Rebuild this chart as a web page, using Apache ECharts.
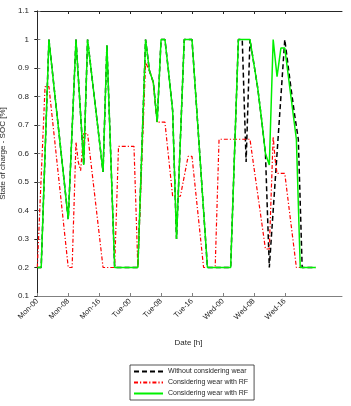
<!DOCTYPE html>
<html>
<head>
<meta charset="utf-8">
<script src="https://cdn.jsdelivr.net/npm/echarts@6/dist/echarts.min.js"></script>
<style>
html,body{margin:0;padding:0;background:#fff;}
#chart{width:351px;height:406px;}
</style>
</head>
<body>
<div id="chart"></div>
<script>
// Hours (from Mon 00:00) and SOC values
var tickHours = [0, 8, 16, 24, 32, 40, 48, 56, 64];
var tickLabels = ['Mon-00','Mon-08','Mon-16','Tue-00','Tue-08','Tue-16','Wed-00','Wed-08','Wed-16'];

var noWearHours = [0,1,3,8,10,12,13,17,18,20,26,28,29,30,31,32,33,34,35,36,38,40,44,50,52,53,54,55,57,58,59,60,64,65.5,66.5,67.5,68.5,72];
var noWearSoc   = [0.2,0.2,1,0.37,1,0.56,1,0.535,0.98,0.2,0.2,1,0.89,0.85,0.71,1,1,0.88,0.75,0.3,1,1,0.2,0.2,1,1,0.57,1,0.83,0.72,0.6,0.2,1,0.84,0.74,0.65,0.2,0.2];

var rfHours = [0,2,3,8,9,10,10.6,11.2,12,13,17,20,21,25,26,28,29,30,31,33,35,37,39,40,43,46,47,55,59,60,61,61.5,62,64,67,68];
var rfSoc   = [0.2,0.835,0.835,0.2,0.2,0.64,0.57,0.54,0.67,0.67,0.2,0.2,0.625,0.625,0.2,0.92,0.89,0.85,0.71,0.71,0.45,0.45,0.59,0.59,0.2,0.2,0.65,0.65,0.265,0.265,0.66,0.58,0.53,0.53,0.2,0.2];

var rf2Hours = [0,1,3,8,10,12,13,17,18,20,26,28,29,30,31,32,33,34,35,36,38,40,44,50,52,55,57,58,59,60,61,62,63,64,67,68,72];
var rf2Soc   = [0.2,0.2,1,0.37,1,0.56,1,0.535,0.98,0.2,0.2,1,0.89,0.85,0.71,1,1,0.88,0.75,0.3,1,1,0.2,0.2,1,1,0.83,0.72,0.6,0.56,1,0.87,0.97,0.97,0.65,0.2,0.2];

var seriesNames = ['Without considering wear','Considering wear with RF','Considering wear with RF '];

function pairs(h, v){ return h.map(function(x,i){ return [x, v[i]]; }); }

var font = 'Liberation Sans, Arial, Helvetica, sans-serif';
var txt = '#262626';

var chart = echarts.init(document.getElementById('chart'), null, {renderer:'canvas'});
var option = {
  animation: false,
  backgroundColor: '#fff',
  grid: {left: 35, right: 9, top: 11, height: 285, containLabel: false, outerBoundsMode: 'none'},
  xAxis: [{
    type: 'value', min: -0.6, max: 78.8,
    name: 'Date [h]', nameLocation: 'middle', nameGap: 43,
    nameTextStyle: {fontFamily: font, fontSize: 8, color: txt},
    axisLine: {show: true, lineStyle: {color: '#808080', width: 1}},
    axisTick: {show: true, inside: true, length: 3, customValues: tickHours, lineStyle: {color: '#808080'}},
    axisLabel: {show: true, rotate: 45, margin: 4, fontFamily: font, fontSize: 7.5, color: txt,
      customValues: tickHours,
      formatter: function(v){ var i = tickHours.indexOf(Math.round(v)); return i >= 0 ? tickLabels[i] : ''; }},
    splitLine: {show: false}
  },{
    type: 'value', min: -0.6, max: 78.8, position: 'top',
    axisLine: {show: true, lineStyle: {color: '#262626', width: 1}},
    axisTick: {show: true, inside: true, length: 3, customValues: tickHours, lineStyle: {color: '#262626'}},
    axisLabel: {show: false},
    splitLine: {show: false}
  }],
  yAxis: [{
    type: 'value', min: 0.1, max: 1.1, interval: 0.1,
    name: 'State of charge - SOC [%]', nameLocation: 'middle', nameGap: 20, nameRotate: 90,
    nameTextStyle: {fontFamily: font, fontSize: 8, color: txt},
    axisLine: {show: true, lineStyle: {color: '#808080', width: 1}},
    axisTick: {show: true, inside: true, length: 3, lineStyle: {color: '#808080'}},
    axisLabel: {margin: 6, fontFamily: font, fontSize: 8, color: txt,
      formatter: function(v){ return String(Math.round(v*10)/10); }},
    splitLine: {show: false}
  },{
    type: 'value', min: 0.1, max: 1.1, interval: 0.1, position: 'right',
    axisLine: {show: true, lineStyle: {color: '#262626', width: 1}},
    axisTick: {show: true, inside: true, length: 3, lineStyle: {color: '#262626'}},
    axisLabel: {show: false},
    splitLine: {show: false}
  }],
  legend: {
    orient: 'vertical', left: 130, top: 365,
    itemWidth: 29, itemHeight: 6, itemGap: 4,
    padding: [3, 4, 3, 3],
    borderColor: '#262626', borderWidth: 0.8, borderRadius: 0,
    itemStyle: {opacity: 0},
    textStyle: {fontFamily: font, fontSize: 7, color: txt},
    data: [seriesNames[0], seriesNames[1], seriesNames[2]]
  },
  series: [{
    name: seriesNames[0], type: 'line', xAxisIndex: 0, yAxisIndex: 0,
    data: pairs(noWearHours, noWearSoc), symbol: 'none', z: 2,
    lineStyle: {color: '#000', width: 1.5, type: [5, 3]}, itemStyle: {color: '#000'}
  },{
    name: seriesNames[1], type: 'line', xAxisIndex: 0, yAxisIndex: 0,
    data: pairs(rfHours, rfSoc), symbol: 'none', z: 3,
    lineStyle: {color: '#ff0000', width: 1.2, type: [4, 2, 1.2, 2]}, itemStyle: {color: '#ff0000'}
  },{
    name: seriesNames[2], type: 'line', xAxisIndex: 0, yAxisIndex: 0,
    data: pairs(rf2Hours, rf2Soc), symbol: 'none', z: 4,
    lineStyle: {color: '#00f000', width: 1.5, type: 'solid'}, itemStyle: {color: '#00f000'}
  }]
};
chart.setOption(option);
</script>
</body>
</html>
